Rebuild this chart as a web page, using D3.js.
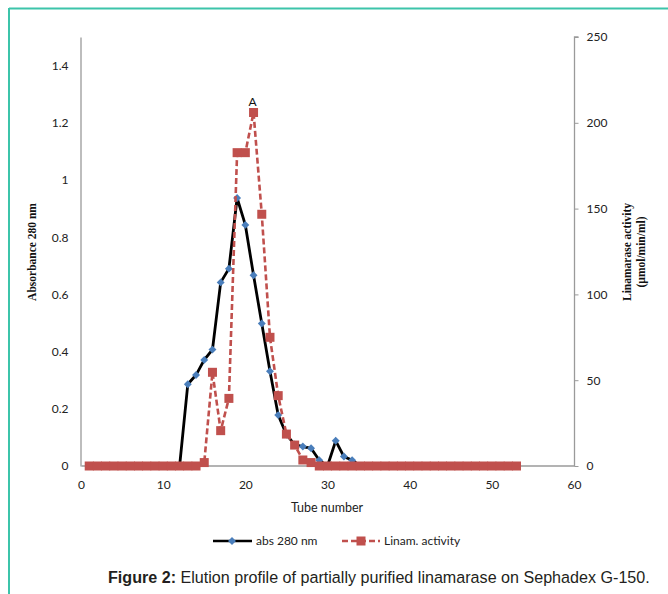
<!DOCTYPE html>
<html><head><meta charset="utf-8">
<script src="https://cdn.jsdelivr.net/npm/d3@7"></script>
<style>body{margin:0;background:#fff}svg{display:block}</style>
</head><body>
<script>
// ---- data ----
const tubes = d3.range(1, 54); // 1..53
const absValues = [0,0,0,0,0,0,0,0,0,0,0,0,
  0.286,0.318,0.371,0.407,0.642,0.690,0.937,0.843,0.667,0.498,0.331,0.178,0.110,0.075,0.068,0.062,0.020,0,
  0.088,0.033,0.020,
  0,0,0,0,0,0,0,0,0,0,0,0,0,0,0,0,0,0,0,0];
const actValues = [0,0,0,0,0,0,0,0,0,0,0,0,0,0,
  2,54.6,20.6,39.4,182.6,182.6,206,146.7,75,41,18.6,12.2,3.5,2,
  0,0,0,0,0,0,0,0,0,0,0,0,0,0,0,0,0,0,0,0,0,0,0,0,0];
const xTicks = [0,10,20,30,40,50,60];
const yLeftTicks = [0,0.2,0.4,0.6,0.8,1,1.2,1.4];
const yRightTicks = [0,50,100,150,200,250];
const seriesNames = ["abs 280 nm","Linam. activity"];
const peakLabel = {tube:21, text:"A"};

const W=668,H=594;
const svg=d3.select("body").append("svg").attr("width",W).attr("height",H);
svg.append("rect").attr("width",W).attr("height",H).attr("fill","#fff");

// teal frame
svg.append("line").attr("x1",9).attr("x2",W).attr("y1",8.5).attr("y2",8.5).attr("stroke","#3cc4aa").attr("stroke-width",2);
svg.append("line").attr("x1",9).attr("x2",9).attr("y1",8).attr("y2",H).attr("stroke","#3cc4aa").attr("stroke-width",2);

const x=d3.scaleLinear().domain([0,60]).range([81,574]);
const yL=d3.scaleLinear().domain([0,1.5]).range([466,37]);
const yR=d3.scaleLinear().domain([0,250]).range([466,37]);
const axisColor="#9a9a9a";
const tickFont="Lato, 'Open Sans', sans-serif";

// left axis
const gL=svg.append("g").attr("transform","translate(80.5,0)")
  .call(d3.axisLeft(yL).tickValues(yLeftTicks).tickSize(0).tickPadding(12).tickFormat(d3.format("~g")));
// bottom axis
const gB=svg.append("g").attr("transform","translate(0,466.5)")
  .call(d3.axisBottom(x).tickValues(xTicks).tickSize(0).tickPadding(14));
// right axis
const gR=svg.append("g").attr("transform","translate(574.5,0)")
  .call(d3.axisRight(yR).tickValues(yRightTicks).tickSize(4).tickPadding(8));
[gL,gB,gR].forEach(g=>{
  g.select(".domain").attr("stroke",axisColor).attr("stroke-width",1.3);
  g.selectAll(".tick line").attr("stroke",axisColor);
  g.selectAll("text").attr("font-family",tickFont).attr("font-size",12).attr("fill","#222");
});
gR.select(".domain").attr("d","M4,37H0V466H-493");
gB.select(".domain").remove();

// axis titles
svg.append("text").attr("transform","translate(36,252) rotate(-90)").attr("text-anchor","middle")
  .attr("font-family","'Liberation Serif',serif").attr("font-weight","bold").attr("font-size",11.5).attr("fill","#111")
  .text("Absorbance 280 nm");
const rt=svg.append("text").attr("transform","translate(631,252) rotate(-90)").attr("text-anchor","middle")
  .attr("font-family","'Liberation Serif',serif").attr("font-weight","bold").attr("font-size",11.5).attr("fill","#111");
rt.append("tspan").attr("x",0).attr("dy",0).text("Linamarase activity");
rt.append("tspan").attr("x",0).attr("dy",14).text("(µmol/min/ml)");
svg.append("text").attr("x",327).attr("y",512).attr("text-anchor","middle")
  .attr("font-family",tickFont).attr("font-size",12.5).attr("fill","#222").text("Tube number");

const absData=tubes.map((t,i)=>({t,v:absValues[i]}));
const actData=tubes.map((t,i)=>({t,v:actValues[i]}));

// abs series
svg.append("path").datum(absData).attr("fill","none").attr("stroke","#000").attr("stroke-width",2.8)
  .attr("d",d3.line().x(d=>x(d.t)).y(d=>yL(d.v)));
svg.append("g").selectAll("path").data(absData).join("path")
  .attr("transform",d=>`translate(${x(d.t)},${yL(d.v)})`)
  .attr("d",d3.symbol(d3.symbolDiamond2,40)()).attr("fill","#4a7ebb");

// activity series
svg.append("path").datum(actData).attr("fill","none").attr("stroke","#c0504d").attr("stroke-width",2.6)
  .attr("stroke-dasharray","6,3")
  .attr("d",d3.line().x(d=>x(d.t)).y(d=>yR(d.v)));
svg.append("g").selectAll("rect").data(actData).join("rect")
  .attr("x",d=>x(d.t)-4.5).attr("y",d=>yR(d.v)-4.5).attr("width",9).attr("height",9).attr("fill","#c0504d");

// peak label
svg.append("text").attr("x",x(peakLabel.tube)-1).attr("y",yR(actValues[peakLabel.tube-1])-7).attr("text-anchor","middle")
  .attr("font-family",tickFont).attr("font-size",12).attr("fill","#111").text(peakLabel.text);

// legend
const lg=svg.append("g");
lg.append("line").attr("x1",213).attr("x2",252).attr("y1",541).attr("y2",541).attr("stroke","#000").attr("stroke-width",2.6);
lg.append("path").attr("transform","translate(232,541)").attr("d",d3.symbol(d3.symbolDiamond2,40)()).attr("fill","#4a7ebb");
lg.append("text").attr("x",256).attr("y",545).attr("font-family",tickFont).attr("font-size",12).attr("fill","#222").text(seriesNames[0]);
lg.append("line").attr("x1",342).attr("x2",380).attr("y1",541).attr("y2",541).attr("stroke","#c0504d").attr("stroke-width",2.6).attr("stroke-dasharray","6,3");
lg.append("rect").attr("x",356.5).attr("y",536.5).attr("width",9).attr("height",9).attr("fill","#c0504d");
lg.append("text").attr("x",384).attr("y",545).attr("font-family",tickFont).attr("font-size",12).attr("fill","#222").text(seriesNames[1]);

// caption (font size fitted so the line spans x 108..652)
const cap=svg.append("text").attr("x",108).attr("y",583).attr("font-family","'Liberation Sans',Arial,sans-serif")
  .attr("font-size",17).attr("fill","#231f20");
cap.append("tspan").attr("font-weight","bold").text("Figure 2:");
cap.append("tspan").text(" Elution profile of partially purified linamarase on Sephadex G-150.");
const natural=cap.node().getComputedTextLength();
cap.attr("font-size",Math.min(17,17*542/natural));
</script>
</body></html>
